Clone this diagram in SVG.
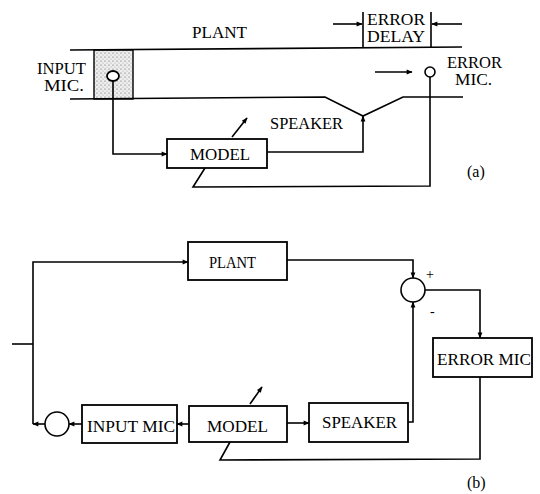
<svg xmlns="http://www.w3.org/2000/svg" width="540" height="494" viewBox="0 0 540 494">
<style>
.ln{fill:none;stroke:#000;stroke-width:1.6;stroke-linejoin:miter}
.bx{fill:#fff;stroke:#000;stroke-width:1.8}
.t{font-family:"Liberation Serif","Times New Roman",serif;font-size:16px;fill:#000}
.s{font-family:"Liberation Serif","Times New Roman",serif;font-size:14px;fill:#000}
.a{marker-end:url(#ah)}
</style>
<defs>
<marker id="ah" viewBox="0 0 10 10" refX="9" refY="5" markerWidth="8" markerHeight="6" markerUnits="userSpaceOnUse" orient="auto">
<path d="M0,1 L10,5 L0,9 Z" fill="#000"/>
</marker>
<pattern id="dots" width="4" height="4" patternUnits="userSpaceOnUse">
<rect width="4" height="4" fill="#eeeeee"/>
<circle cx="1" cy="1" r="0.6" fill="#555"/>
<circle cx="3" cy="3" r="0.5" fill="#999"/>
</pattern>
</defs>

<!-- (a) duct -->
<g id="duct">
<rect x="94" y="50" width="39" height="49" fill="url(#dots)" stroke="#000" stroke-width="1.4"/>
<path class="ln" d="M70,50 L462,47"/>
<path class="ln" d="M70,99 L325,97 L363,116 L403,97 L463,97"/>
</g>
<g id="a-plant-label"><text class="t" x="192" y="38" textLength="55" lengthAdjust="spacingAndGlyphs">PLANT</text></g>
<g id="error-delay">
<path class="ln" d="M363,12 V47 M431,12 V47"/>
<text class="t" x="367" y="25" textLength="58" lengthAdjust="spacingAndGlyphs">ERROR</text>
<text class="t" x="367" y="42" textLength="58" lengthAdjust="spacingAndGlyphs">DELAY</text>
</g>
<g id="a-input-mic">
<ellipse cx="113" cy="76" rx="6" ry="5" fill="#fff" stroke="#000" stroke-width="1.8"/>
<text class="t" x="37" y="74" textLength="49" lengthAdjust="spacingAndGlyphs">INPUT</text>
<text class="t" x="44" y="91" textLength="40" lengthAdjust="spacingAndGlyphs">MIC.</text>
</g>
<g id="a-error-mic">
<circle cx="430" cy="72" r="5" fill="#fff" stroke="#000" stroke-width="1.6"/>
<text class="t" x="447" y="68" textLength="55" lengthAdjust="spacingAndGlyphs">ERROR</text>
<text class="t" x="455" y="85" textLength="37" lengthAdjust="spacingAndGlyphs">MIC.</text>
</g>
<g id="a-model">
<rect class="bx" x="167" y="139" width="100" height="29"/>
<text class="t" x="190" y="160" textLength="60" lengthAdjust="spacingAndGlyphs">MODEL</text>
</g>
<g id="a-speaker-label"><text class="t" x="270" y="129" textLength="73" lengthAdjust="spacingAndGlyphs">SPEAKER</text></g>
<text class="t" x="467" y="177">(a)</text>

<g id="a-connectors">
<path class="ln a" d="M333,24 H362"/>
<path class="ln a" d="M462,24 H432"/>
<path class="ln a" d="M375,72 H412"/>
<path class="ln a" d="M113,81 V154 H167"/>
<path class="ln a" d="M267,152 H363 V116"/>
<path class="ln a" d="M232,137 L247,118"/>
<path class="ln" d="M430,77 V186 L193,187 L205,168"/>
</g>

<!-- (b) -->
<g id="b-plant">
<rect class="bx" x="188" y="242" width="99" height="38"/>
<text class="t" x="209" y="268" textLength="47" lengthAdjust="spacingAndGlyphs">PLANT</text>
</g>
<g id="b-sum">
<circle cx="413" cy="290" r="12" fill="#fff" stroke="#000" stroke-width="1.6"/>
<text class="s" x="426" y="279">+</text>
<text class="s" x="430" y="316">-</text>
</g>
<g id="b-error-mic">
<rect class="bx" x="433" y="338" width="99" height="39"/>
<text class="t" x="437" y="365" textLength="94" lengthAdjust="spacingAndGlyphs">ERROR MIC</text>
</g>
<g id="b-speaker">
<rect class="bx" x="309" y="403" width="99" height="39"/>
<text class="t" x="322" y="428" textLength="75" lengthAdjust="spacingAndGlyphs">SPEAKER</text>
</g>
<g id="b-model">
<rect class="bx" x="189" y="406" width="98" height="36"/>
<text class="t" x="207" y="432" textLength="61" lengthAdjust="spacingAndGlyphs">MODEL</text>
</g>
<g id="b-input-mic">
<rect class="bx" x="82" y="405" width="95" height="38"/>
<text class="t" x="87" y="432" textLength="88" lengthAdjust="spacingAndGlyphs">INPUT MIC</text>
</g>
<g id="b-circle">
<circle cx="57" cy="424" r="12" fill="#fff" stroke="#000" stroke-width="1.6"/>
</g>
<text class="t" x="467" y="488">(b)</text>

<g id="b-connectors">
<path class="ln" d="M12,344 H33"/>
<path class="ln a" d="M33,424 V262 H188"/>
<path class="ln a" d="M287,260 H413 V278"/>
<path class="ln a" d="M425,290 H480 V338"/>
<path class="ln a" d="M408,422 H413 V302"/>
<path class="ln a" d="M287,423 H309"/>
<path class="ln a" d="M189,424 H177"/>
<path class="ln a" d="M82,424 H69"/>
<path class="ln a" d="M45,424 H33"/>
<path class="ln a" d="M250,404 L262,387"/>
<path class="ln" d="M480,377 V459 L220,460 L230,442"/>
</g>
</svg>
